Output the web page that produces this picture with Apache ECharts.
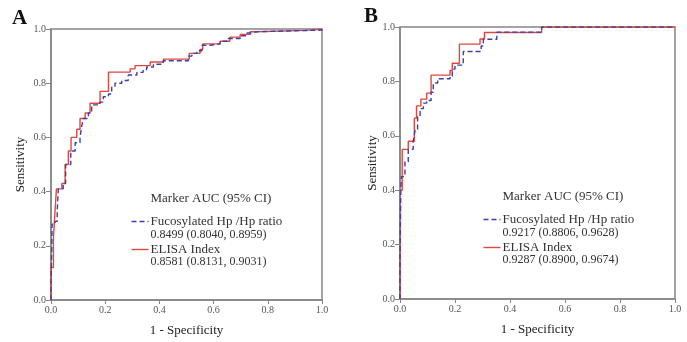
<!DOCTYPE html>
<html>
<head>
<meta charset="utf-8">
<script src="https://cdn.jsdelivr.net/npm/echarts@6/dist/echarts.min.js"></script>
<style>
  html, body { margin: 0; padding: 0; background: #fff; }
  #chart { width: 687px; height: 342px; }
</style>
</head>
<body>
<div id="chart"></div>
<script>
// ROC points [1 - specificity, sensitivity] (jump positions)
const rocA_fuco = [[0,0],[0,0.06],[0.003,0.2],[0.004,0.28],[0.015,0.29],[0.023,0.33],[0.027,0.41],[0.045,0.43],[0.054,0.50],[0.073,0.55],[0.089,0.58],[0.107,0.60],[0.113,0.64],[0.119,0.67],[0.138,0.69],[0.15,0.72],[0.18,0.73],[0.193,0.75],[0.212,0.76],[0.224,0.785],[0.236,0.80],[0.261,0.81],[0.285,0.83],[0.317,0.84],[0.34,0.85],[0.353,0.86],[0.378,0.87],[0.414,0.883],[0.507,0.90],[0.52,0.91],[0.538,0.92],[0.557,0.94],[0.587,0.945],[0.624,0.955],[0.649,0.965],[0.698,0.975],[0.723,0.985],[0.741,0.99],[0.76,0.996],[1,1]];
const rocA_elisa = [[0,0],[0,0.12],[0.009,0.23],[0.015,0.33],[0.02,0.41],[0.04,0.43],[0.052,0.50],[0.064,0.55],[0.074,0.60],[0.095,0.63],[0.107,0.67],[0.126,0.69],[0.144,0.726],[0.181,0.77],[0.212,0.841],[0.292,0.853],[0.31,0.865],[0.366,0.878],[0.415,0.889],[0.51,0.91],[0.55,0.925],[0.56,0.945],[0.624,0.955],[0.66,0.97],[0.698,0.98],[0.735,0.99],[0.753,0.995],[0.94,1.0],[1,1]];
const rocB_fuco = [[0,0],[0,0.16],[0.003,0.40],[0.005,0.45],[0.018,0.505],[0.03,0.55],[0.048,0.58],[0.055,0.62],[0.064,0.67],[0.073,0.70],[0.085,0.72],[0.097,0.73],[0.113,0.76],[0.121,0.794],[0.137,0.81],[0.182,0.82],[0.19,0.845],[0.2,0.86],[0.23,0.91],[0.295,0.93],[0.303,0.955],[0.352,0.981],[0.515,1.0],[1,1]];
const rocB_elisa = [[0,0],[0,0.40],[0.008,0.55],[0.03,0.58],[0.052,0.665],[0.06,0.71],[0.076,0.735],[0.097,0.757],[0.113,0.823],[0.182,0.84],[0.19,0.867],[0.216,0.937],[0.291,0.956],[0.307,0.98],[0.515,1.0],[1,1]];

const panelLetters = ['A', 'B'];
const markerNames = ['Fucosylated Hp /Hp ratio', 'ELISA Index'];
const aucA = ['0.8499 (0.8040, 0.8959)', '0.8581 (0.8131, 0.9031)'];
const aucB = ['0.9217 (0.8806, 0.9628)', '0.9287 (0.8900, 0.9674)'];
const legendTitle = 'Marker AUC (95% CI)';

const serif = '"Liberation Serif", "DejaVu Serif", serif';
const axisGray = '#858585';
const red = '#e2463f';
const blue = '#3d3fae';

const grids = [
  { left: 51, top: 29, width: 271, height: 271, show: true, borderColor: axisGray, borderWidth: 1.5 },
  { left: 400, top: 27, width: 275, height: 272, show: true, borderColor: axisGray, borderWidth: 1.5 }
];

function xAx(i) {
  return {
    type: 'value', gridIndex: i, min: 0, max: 1, interval: 0.2,
    name: '1 - Specificity', nameLocation: 'middle', nameGap: 24,
    nameTextStyle: { fontFamily: serif, fontSize: 13, color: '#222' },
    axisLine: { lineStyle: { color: axisGray, width: 1.5 } },
    axisTick: { show: true, length: 4, lineStyle: { color: axisGray } },
    axisLabel: { fontFamily: serif, fontSize: 10, color: '#555', margin: 5,
      formatter: v => v.toFixed(1) },
    splitLine: { show: false }
  };
}
function yAx(i, gap) {
  return {
    type: 'value', gridIndex: i, min: 0, max: 1, interval: 0.2,
    name: 'Sensitivity', nameLocation: 'middle', nameGap: gap,
    nameTextStyle: { fontFamily: serif, fontSize: 13, color: '#222' },
    axisLine: { lineStyle: { color: axisGray, width: 1.5 } },
    axisTick: { show: true, length: 5, lineStyle: { color: axisGray } },
    axisLabel: { fontFamily: serif, fontSize: 10, color: '#555', margin: 5,
      formatter: v => v.toFixed(1) },
    splitLine: { show: false }
  };
}

function rocSeries(name, data, i, dashed) {
  return {
    name: name, type: 'line', xAxisIndex: i, yAxisIndex: i,
    data: data, step: 'end', showSymbol: false, symbol: 'none',
    lineStyle: { color: dashed ? blue : red, width: 1.4, type: dashed ? [5, 3] : 'solid' },
    z: dashed ? 3 : 2
  };
}

// legend drawn as a small text block inside each panel
function legendBlock(x, y, auc) {
  const ts = { fontFamily: serif, fontSize: 12, fill: '#333', textVerticalAlign: 'middle' };
  return {
    type: 'group', left: x, top: y,
    children: [
      { type: 'text', x: 19, y: 0, style: Object.assign({}, ts, { text: legendTitle, fontSize: 13 }) },
      { type: 'line', shape: { x1: 0, y1: 23, x2: 17, y2: 23 }, style: { stroke: blue, lineWidth: 1.4, lineDash: [5, 3] } },
      { type: 'text', x: 19, y: 23, style: Object.assign({}, ts, { text: markerNames[0], fontSize: 13 }) },
      { type: 'text', x: 19, y: 36, style: Object.assign({}, ts, { text: auc[0] }) },
      { type: 'line', shape: { x1: 0, y1: 51, x2: 17, y2: 51 }, style: { stroke: red, lineWidth: 1.4 } },
      { type: 'text', x: 19, y: 51, style: Object.assign({}, ts, { text: markerNames[1], fontSize: 13 }) },
      { type: 'text', x: 19, y: 63, style: Object.assign({}, ts, { text: auc[1] }) }
    ]
  };
}

const chart = echarts.init(document.getElementById('chart'));
chart.setOption({
  animation: false,
  backgroundColor: '#fff',
  title: [
    { text: panelLetters[0], left: 7, top: 3, textStyle: { fontFamily: serif, fontSize: 21, fontWeight: 'bold', color: '#111' } },
    { text: panelLetters[1], left: 359, top: 1, textStyle: { fontFamily: serif, fontSize: 21, fontWeight: 'bold', color: '#111' } }
  ],
  grid: grids,
  xAxis: [xAx(0), xAx(1)],
  yAxis: [yAx(0, 24), yAx(1, 21)],
  series: [
    rocSeries(markerNames[1], rocA_elisa, 0, false),
    rocSeries(markerNames[0], rocA_fuco, 0, true),
    rocSeries(markerNames[1], rocB_elisa, 1, false),
    rocSeries(markerNames[0], rocB_fuco, 1, true)
  ],
  graphic: [
    legendBlock(129, 192, aucA),
    legendBlock(481, 190, aucB)
  ]
});
</script>
</body>
</html>
